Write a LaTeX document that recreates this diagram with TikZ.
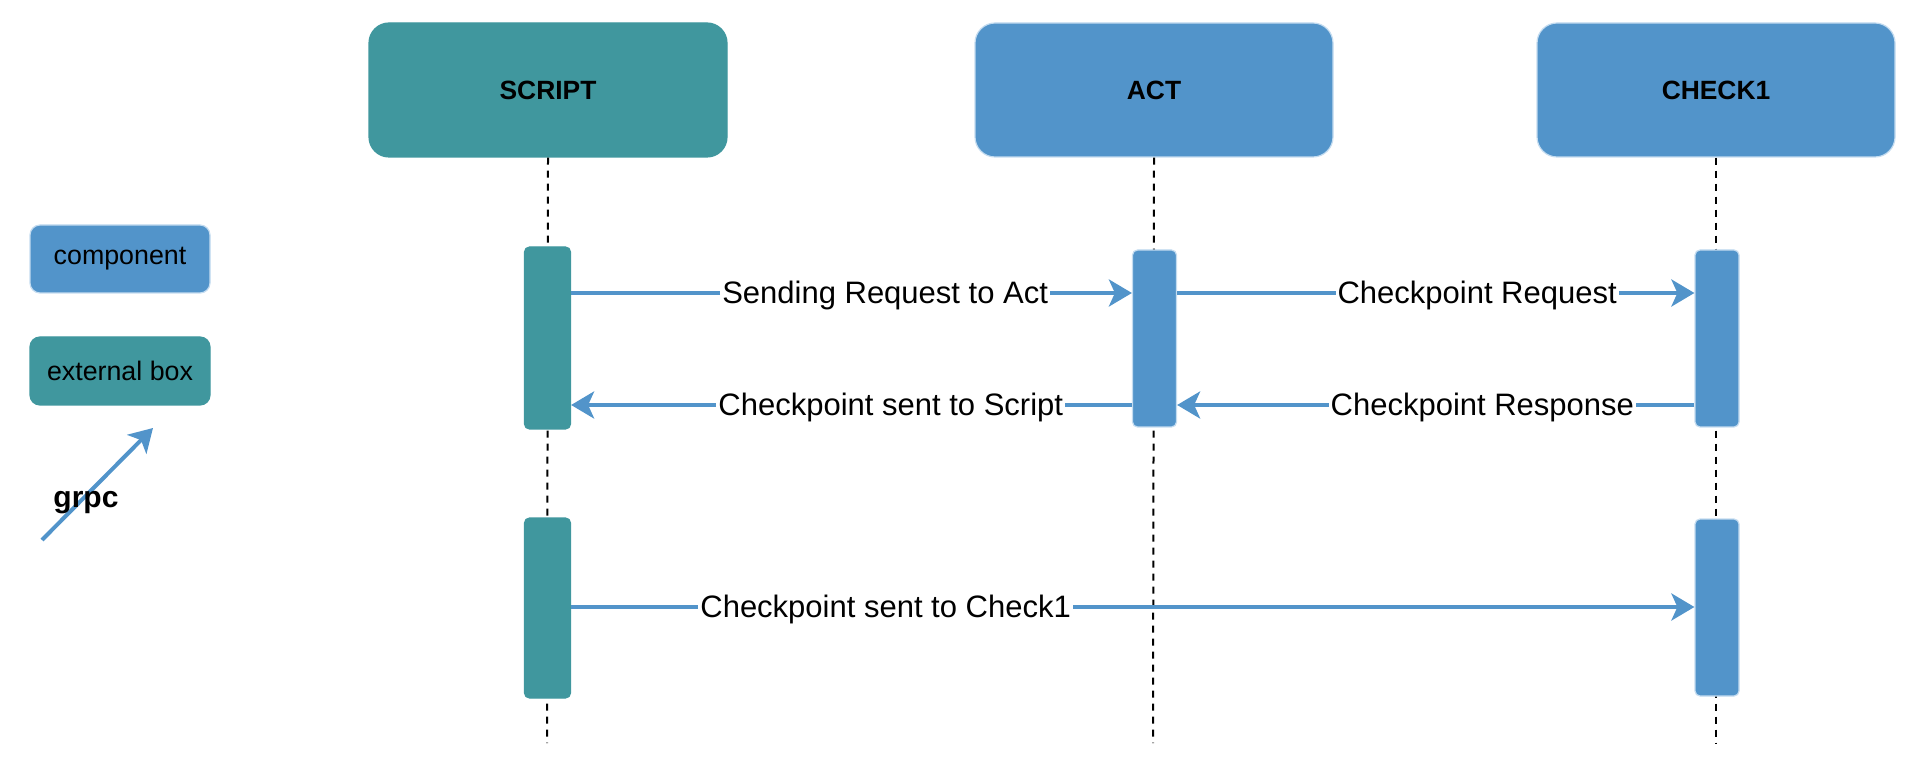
\documentclass[tikz,border=0pt]{standalone}
\usepackage{fontspec}
\setmainfont{Liberation Sans}
\definecolor{compblue}{RGB}{82,148,202}
\definecolor{extteal}{RGB}{64,151,158}
\definecolor{edgeblue}{RGB}{196,220,240}
\usetikzlibrary{arrows.meta,positioning}

\begin{document}
\begin{tikzpicture}[x=0.5pt,y=-0.5pt,
  head/.style={rounded corners=10pt, minimum width=179pt, minimum height=67pt, inner sep=0pt, font=\fontsize{13.2}{15}\selectfont\bfseries},
  comp/.style={fill=compblue, draw=edgeblue, line width=0.6pt},
  ext/.style={fill=extteal, draw=extteal, line width=0.6pt},
  bar/.style={rounded corners=2.5pt, minimum width=22pt, inner sep=0pt},
  lifeline/.style={black, line width=1pt, dash pattern=on 3.5pt off 3pt},
  msg/.style={compblue, line width=2pt, -{Stealth[length=11.5pt,width=13.5pt,inset=3pt]}},
  lbl/.style={fill=white, inner sep=1pt, text=black, yshift=-1pt, font=\fontsize{15.5}{18}\selectfont},
  legend/.style={rounded corners=5pt, minimum width=90pt, minimum height=34pt, inner sep=0pt, font=\fontsize{13.4}{16}\selectfont}]
\useasboundingbox (0,0) rectangle (1920,769);
% Participants
\node[head, ext] (script) at (548,90) {SCRIPT};
\node[head, comp] (act) at (1154,90) {ACT};
\node[head, comp] (check) at (1716,90) {CHECK1};
% Lifelines
\coordinate (scriptEnd) at (547,743);
\coordinate (actEnd) at (1153,743);
\coordinate (checkEnd) at (1716,743);
\draw[lifeline] (script.south) -- (scriptEnd);
\draw[lifeline] (act.south) -- (actEnd);
\draw[lifeline] (check.south) -- (checkEnd);
% Activation bars
\node[bar, ext, minimum width=23pt, minimum height=91pt] (scriptA) at (547.5,338) {};
\node[bar, comp, minimum height=88.5pt] (actA) at (1154.5,338.5) {};
\node[bar, comp, minimum height=88.5pt] (checkA) at (1717,338.5) {};
\node[bar, ext, minimum width=23pt, minimum height=90pt] (scriptB) at (547.5,608) {};
\node[bar, comp, minimum height=88.5pt] (checkB) at (1717,607.5) {};
% Messages
\coordinate (row1) at (0,293);
\coordinate (row2) at (0,405);
\coordinate (row3) at (0,607);
\draw[msg] (scriptA.east |- row1) -- node[lbl, pos=0.56] {Sending Request to Act} (actA.west |- row1);
\draw[msg] (actA.west |- row2) -- node[lbl, pos=0.43] {Checkpoint sent to Script} (scriptA.east |- row2);
\draw[msg] (actA.east |- row1) -- node[lbl, pos=0.58] {Checkpoint Request} (checkA.west |- row1);
\draw[msg] (checkA.west |- row2) -- node[lbl, pos=0.41] {Checkpoint Response} (actA.east |- row2);
\draw[msg] (scriptB.east |- row3) -- node[lbl, pos=0.28] {Checkpoint sent to Check1} (checkB.west |- row3);
% Legend
\node[legend, comp] (legComp) at (120,259) {\raisebox{-1.2pt}{component}};
\node[legend, ext] (legExt) at (120,371) {\raisebox{-1.2pt}{external box}};
\coordinate (grpcStart) at (42,540);
\coordinate (grpcEnd) at (153,428);
\draw[msg] (grpcStart) -- (grpcEnd);
\node[font=\fontsize{15}{18}\selectfont\bfseries] (grpcLbl) at (86,503) {grpc};
\end{tikzpicture}
\end{document}
